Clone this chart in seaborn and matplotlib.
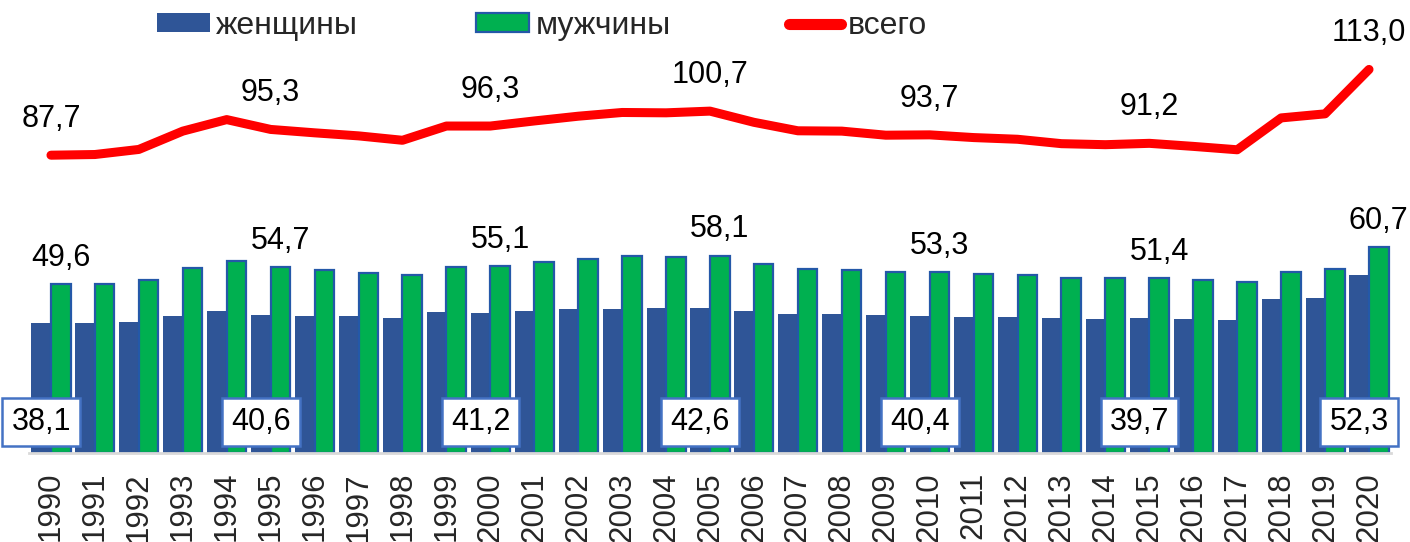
import numpy as np
import pandas as pd
import matplotlib
matplotlib.use("Agg")
import matplotlib.pyplot as plt
import seaborn as sns
from matplotlib.patches import Patch
from matplotlib.lines import Line2D

years = [str(y) for y in range(1990, 2021)]
women = [38.1, 38.3, 38.5, 40.4, 41.8, 40.6, 40.4, 40.4, 39.7, 41.5,
         41.2, 41.7, 42.2, 42.4, 42.5, 42.6, 41.7, 40.8, 41.0, 40.5,
         40.4, 40.1, 40.0, 39.7, 39.4, 39.7, 39.4, 39.1, 45.4, 45.7, 52.3]
men = [49.6, 49.6, 50.9, 54.4, 56.4, 54.7, 53.9, 53.0, 52.4, 54.8,
       55.1, 56.1, 57.0, 57.9, 57.7, 58.1, 55.7, 54.1, 53.8, 53.1,
       53.3, 52.8, 52.4, 51.4, 51.4, 51.4, 50.9, 50.2, 53.3, 54.2, 60.7]
total = [87.7, 87.9, 89.4, 94.8, 98.2, 95.3, 94.3, 93.4, 92.1, 96.3,
         96.3, 97.8, 99.2, 100.3, 100.2, 100.7, 97.4, 94.9, 94.8, 93.6,
         93.7, 92.9, 92.4, 91.1, 90.8, 91.2, 90.3, 89.3, 98.7, 99.9, 113.0]
series_names = ["женщины", "мужчины", "всего"]
label_idx = [0, 5, 10, 15, 20, 25, 30]

C_WOMEN = "#2F5597"
C_MEN = "#00B050"
C_MEN_EDGE = "#2458A8"
C_TOTAL = "#FF0000"
C_BOX = "#4472C4"

def fmt(v):
    return f"{v:.1f}".replace(".", ",")

sns.set_theme(style="white")
plt.rcParams["font.family"] = ["Liberation Sans", "DejaVu Sans"]

df = pd.DataFrame({
    "year": years * 2,
    "sex": [series_names[0]] * len(years) + [series_names[1]] * len(years),
    "value": women + men,
})

fig = plt.figure(figsize=(14.1, 5.42), dpi=100)
ax = fig.add_axes([29 / 1410, (542 - 452.5) / 542, (1391 - 29) / 1410, (452.5 - 28.75) / 542])

sns.barplot(data=df, x="year", y="value", hue="sex", order=years,
            hue_order=series_names[:2], palette=[C_WOMEN, C_MEN],
            width=0.89, saturation=1, legend=False, ax=ax, errorbar=None)

women_bars = ax.containers[0]
men_bars = ax.containers[1]
for p in women_bars.patches:
    p.set_edgecolor("none")
for p in men_bars.patches:
    p.set_edgecolor(C_MEN_EDGE)
    p.set_linewidth(1.6)

line_df = pd.DataFrame({"pos": np.arange(len(years)), "total": total})
sns.lineplot(data=line_df, x="pos", y="total", color=C_TOTAL, linewidth=6.5,
             ax=ax, solid_capstyle="round", solid_joinstyle="round")

# labels
men_labels = [fmt(v) if i in label_idx else "" for i, v in enumerate(men)]
ax.bar_label(men_bars, labels=men_labels, padding=8, fontsize=22, color="black")

for i in label_idx:
    p = women_bars.patches[i]
    xc = p.get_x() + p.get_width() / 2
    ax.text(xc, 9, fmt(women[i]), ha="center", va="center", fontsize=22,
            color="black", zorder=5, clip_on=False,
            bbox=dict(boxstyle="square,pad=0.3", facecolor="white",
                      edgecolor=C_BOX, linewidth=1.8))
    ax.annotate(fmt(total[i]), (i, total[i]), xytext=(0, 26),
                textcoords="offset points", ha="center", va="center",
                fontsize=22, color="black")

ax.set_xlim(-0.5, len(years) - 0.5)
ax.set_ylim(0, 125)
ax.set_xlabel("")
ax.set_ylabel("")
ax.set_yticks([])
ax.set_xticks(range(len(years)))
ax.set_xticklabels(years, rotation=90, fontsize=22.5)
ax.tick_params(axis="x", length=0, pad=14)
for s in ["top", "left", "right"]:
    ax.spines[s].set_visible(False)
ax.spines["bottom"].set_color("#D9D9D9")
ax.spines["bottom"].set_linewidth(2)

handles = [
    Patch(facecolor=C_WOMEN, edgecolor="none"),
    Patch(facecolor=C_MEN, edgecolor=C_MEN_EDGE, linewidth=1.6),
    Line2D([0], [0], color=C_TOTAL, linewidth=8, solid_capstyle="round"),
]
fig.legend(handles, series_names, loc="center", bbox_to_anchor=(542 / 1410, 1 - 26 / 542),
           ncol=3, frameon=False, fontsize=23, handlelength=1.65, handleheight=0.55,
           handletextpad=0.2, columnspacing=3.7, borderaxespad=0, borderpad=0)

fig.savefig("out.png", dpi=100)
